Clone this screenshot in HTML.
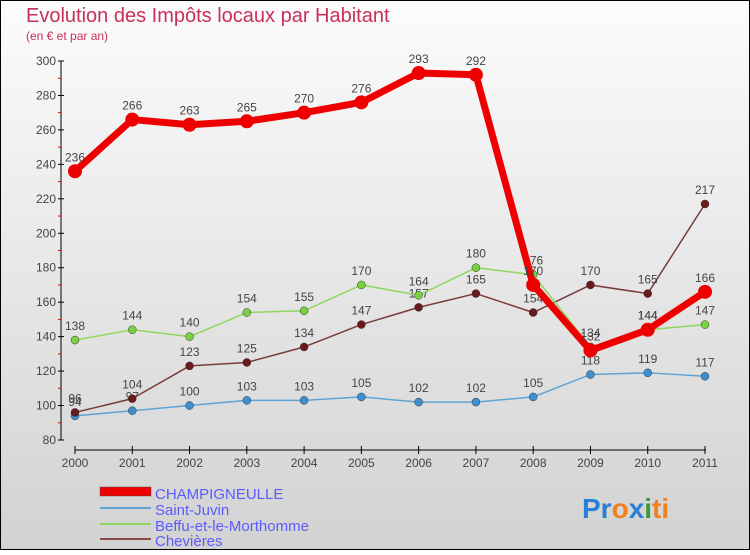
<!DOCTYPE html>
<html><head><meta charset="utf-8"><style>
body{margin:0}
#c{width:750px;height:550px;position:relative;font-family:"Liberation Sans",sans-serif}
</style></head><body>
<div id="c">
<svg id="s" width="750" height="550" xmlns="http://www.w3.org/2000/svg">
<defs><linearGradient id="bg" x1="0" y1="0" x2="0" y2="1"><stop offset="0" stop-color="#fcfcfc"/><stop offset="1" stop-color="#d2d2d2"/></linearGradient></defs>
<rect x="0.5" y="0.5" width="749" height="549" fill="url(#bg)" stroke="#000"/>
<text x="26" y="22" font-size="20" fill="#c8305a">Evolution des Impôts locaux par Habitant</text>
<text x="26" y="40" font-size="12" fill="#c8305a">(en € et par an)</text>
<g id="axes"></g><g id="series"></g>
<g>
<rect x="100" y="487" width="51" height="9" fill="#e00" stroke="#555" stroke-width="0.5"/>
<text x="155" y="499" font-size="15" fill="#5b5bff">CHAMPIGNEULLE</text>
<line x1="100" y1="508" x2="151" y2="508" stroke="#5fa3d3" stroke-width="2"/>
<text x="155" y="515" font-size="15" fill="#5b5bff">Saint-Juvin</text>
<line x1="100" y1="524" x2="151" y2="524" stroke="#8fd65f" stroke-width="2"/>
<text x="155" y="531" font-size="15" fill="#5b5bff">Beffu-et-le-Morthomme</text>
<line x1="100" y1="539" x2="151" y2="539" stroke="#8a4a4a" stroke-width="2"/>
<text x="155" y="546" font-size="15" fill="#5b5bff">Chevières</text>
</g>
<text x="582" y="518" font-size="28" font-weight="bold"><tspan fill="#2a7fd6">Pr</tspan><tspan fill="#f08020">o</tspan><tspan fill="#2a7fd6">x</tspan><tspan fill="#3a9a3a">i</tspan><tspan fill="#f08020">ti</tspan></text>
</svg>
</div>
<script>
const years=["2000","2001","2002","2003","2004","2005","2006","2007","2008","2009","2010","2011"];
const yTicks=[80,100,120,140,160,180,200,220,240,260,280,300];
const champ=[236,266,263,265,270,276,293,292,170,132,144,166];
const juvin=[94,97,100,103,103,105,102,102,105,118,119,117];
const beffu=[138,144,140,154,155,170,164,180,176,134,144,147];
const chev=[96,104,123,125,134,147,157,165,154,170,165,217];
const NS="http://www.w3.org/2000/svg";
const X=i=>75+i*(630/11);
const Y=v=>440-(v-80)*(379/220);
function mk(t,a,p){const e=document.createElementNS(NS,t);for(const k in a)e.setAttribute(k,a[k]);p.appendChild(e);return e;}
const ax=document.getElementById('axes'),sr=document.getElementById('series');
let l=mk('line',{x1:61,y1:61,x2:61,y2:440,stroke:'#000'},ax);

l=mk('line',{x1:75,y1:450,x2:706,y2:450,stroke:'#000'},ax);

yTicks.forEach(v=>{mk('line',{x1:58,y1:Y(v),x2:64,y2:Y(v),stroke:'#000'},ax);
 if(v<300)mk('line',{x1:58,y1:Y(v+10),x2:61,y2:Y(v+10),stroke:'#e00'},ax);
 const t=mk('text',{x:56,y:Y(v)+4,'font-size':12,fill:'#444','text-anchor':'end'},ax);t.textContent=v;
 });
years.forEach((y,i)=>{mk('line',{x1:X(i),y1:446,x2:X(i),y2:454,stroke:'#000'},ax);
 const t=mk('text',{x:X(i),y:467,'font-size':12,fill:'#444','text-anchor':'middle'},ax);t.textContent=y;
 });
function series(vals,col,w,r,dot,name){
 const g=mk('g',{},sr);
 mk('polyline',{points:vals.map((v,i)=>X(i)+','+Y(v)).join(' '),fill:'none',stroke:col,'stroke-width':w,'stroke-linejoin':'round'},g);
 vals.forEach((v,i)=>{const c=mk('circle',{cx:X(i),cy:Y(v),r:r,fill:dot,stroke:'#333','stroke-width':r>5?0:0.5},g);
  
  const t=mk('text',{x:X(i),y:Y(v)-10,'font-size':12,fill:'#444','text-anchor':'middle'},g);t.textContent=v;
  });
}
series(juvin,'#5fa3d3',1.5,4,'#3d8fd0','saint-juvin');
series(chev,'#7a3a3a',1.5,4,'#6a1a1a','chevieres');
series(beffu,'#8fd65f',1.5,4,'#7cd040','beffu');
series(champ,'#ee0000',7,7,'#ee0000','champigneulle');
</script>
</body></html>
